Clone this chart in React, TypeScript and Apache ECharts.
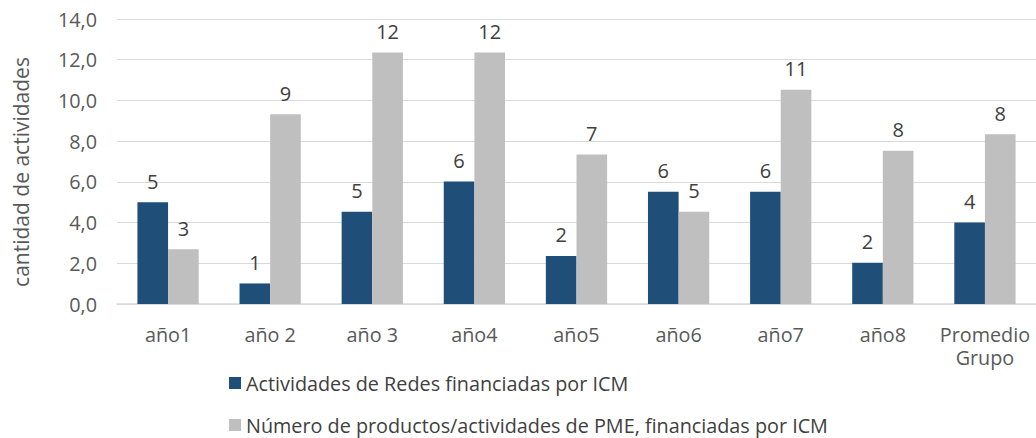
import React, { useEffect, useRef } from "react";
import * as echarts from "echarts";

const categories = ["año1", "año 2", "año 3", "año4", "año5", "año6", "año7", "año8", "Promedio\nGrupo"];
const redesValues = [5.0, 1.01, 4.53, 6.02, 2.36, 5.51, 5.51, 2.03, 4.0];
const pmeValues = [2.69, 9.32, 12.36, 12.36, 7.35, 4.53, 10.52, 7.53, 8.34];
const seriesNames = [
  "Actividades de Redes financiadas por ICM",
  "Número de productos/actividades de PME, financiadas por ICM",
];
const yAxisTitle = "cantidad de actividades";

const FONT = "Open Sans";

export default function App() {
  const ref = useRef<HTMLDivElement>(null);
  useEffect(() => {
    if (!ref.current) return;
    const chart = echarts.init(ref.current, undefined, { renderer: "svg" });
    const label = {
      show: true,
      position: "top",
      distance: 11,
      color: "#404040",
      fontSize: 20,
      fontFamily: FONT,
      formatter: (p: any) => String(Math.round(p.value)),
    };
    chart.setOption({
      animation: false,
      backgroundColor: "#ffffff",
      textStyle: { fontFamily: FONT },
      grid: { left: 117, right: -4, top: 19, bottom: 134, containLabel: false },
      legend: {
        orient: "vertical",
        left: 229,
        top: 373,
        padding: 0,
        itemWidth: 12,
        itemHeight: 12,
        itemGap: 22,
        icon: "rect",
        textStyle: { color: "#404040", fontSize: 19.8, fontFamily: FONT },
        data: seriesNames,
      },
      xAxis: {
        type: "category",
        data: categories,
        axisLine: { lineStyle: { color: "#D9D9D9", width: 1.5 } },
        axisTick: { show: false },
        axisLabel: {
          color: "#595959",
          fontSize: 19.8,
          fontFamily: FONT,
          margin: 19,
          lineHeight: 23,
          interval: 0,
        },
      },
      yAxis: {
        type: "value",
        min: 0,
        max: 14,
        interval: 2,
        axisLine: { show: false },
        axisTick: { show: false },
        splitLine: { lineStyle: { color: "#D9D9D9", width: 1 } },
        axisLabel: {
          color: "#595959",
          fontSize: 19.8,
          fontFamily: FONT,
          margin: 20,
          formatter: (v: number) => v.toFixed(1).replace(".", ","),
        },
      },
      graphic: [
        {
          type: "text",
          x: 21,
          y: 172,
          rotation: Math.PI / 2,
          style: {
            text: yAxisTitle,
            fill: "#595959",
            fontSize: 21,
            fontFamily: FONT,
            align: "center",
            verticalAlign: "middle",
          },
        },
      ],
      series: [
        {
          name: seriesNames[0],
          type: "bar",
          data: redesValues,
          itemStyle: { color: "#1F4E79" },
          barGap: "0%",
          barCategoryGap: "40%",
          label,
        },
        {
          name: seriesNames[1],
          type: "bar",
          data: pmeValues,
          itemStyle: { color: "#BFBFBF" },
          barGap: "0%",
          barCategoryGap: "40%",
          label,
        },
      ],
    });
    return () => chart.dispose();
  }, []);
  return (
    <div
      ref={ref}
      style={{ position: "fixed", left: 0, top: 0, width: 1036, height: 438 }}
    />
  );
}
